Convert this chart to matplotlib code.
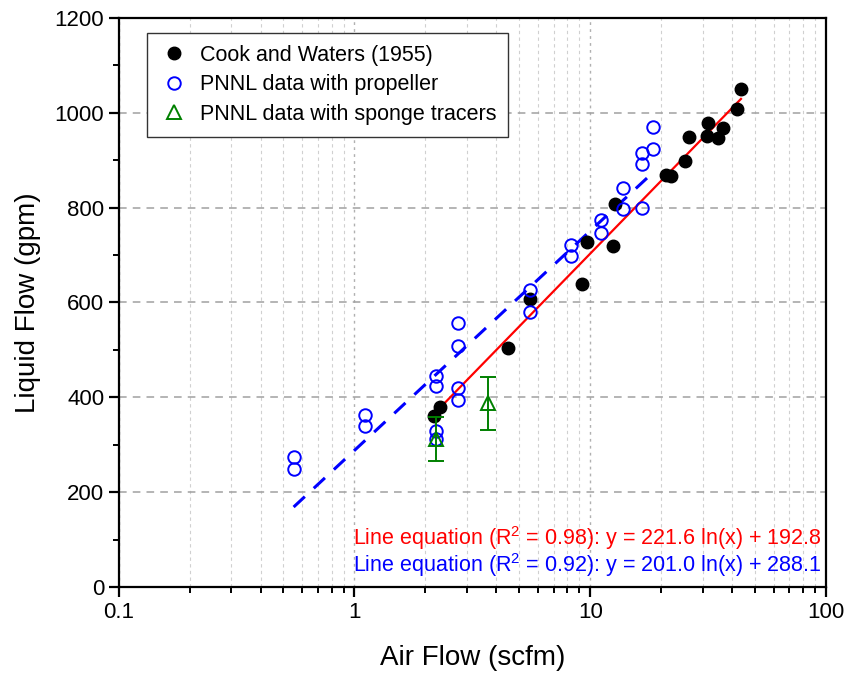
import matplotlib
matplotlib.use('Agg')
import matplotlib.pyplot as plt
from matplotlib.lines import Line2D
import numpy as np
from matplotlib.ticker import LogLocator, FixedLocator, NullFormatter

plt.rcParams['font.family'] = ['Liberation Sans', 'DejaVu Sans']
plt.rcParams['mathtext.fontset'] = 'custom'
plt.rcParams['mathtext.rm'] = 'Liberation Sans'

# Cook and Waters (1955)
cook_x = [2.18, 2.31, 4.5, 5.57, 9.25, 9.7, 12.5, 12.8, 21.0, 22.0, 25.3,
          26.3, 31.6, 31.3, 34.9, 36.6, 42.0, 43.6]
cook_y = [361, 379, 503, 608, 640, 728, 720, 808, 869, 867, 899,
          949, 979, 951, 947, 969, 1008, 1050]

# PNNL data with propeller
prop_x = [0.552, 0.552, 1.11, 1.11, 2.22, 2.22, 2.22, 2.22, 2.76, 2.76,
          2.76, 2.76, 5.57, 5.57, 8.3, 8.3, 11.1, 11.1, 13.8, 13.8,
          16.6, 16.6, 16.6, 18.5, 18.5]
prop_y = [274, 248, 362, 339, 446, 423, 328, 312, 556, 509,
          419, 394, 627, 580, 722, 699, 773, 747, 842, 798,
          800, 893, 916, 924, 971]

# PNNL data with sponge tracers
sponge_x = [2.22, 3.7]
sponge_y = [312, 387]
sponge_err = [47, 55]

# fits: y = a ln(x) + b
red_a, red_b = 221.6, 192.8
blue_a, blue_b = 201.0, 288.1

fig = plt.figure(figsize=(8.48, 6.79), dpi=100)
ax = fig.add_axes([0.140, 0.1355, 0.834, 0.838])

ax.set_xscale('log')
ax.set_xlim(0.1, 100)
ax.set_ylim(0, 1200)

# ticks and grid
ax.xaxis.set_minor_locator(LogLocator(base=10, subs=np.arange(2, 10), numticks=20))
ax.xaxis.set_minor_formatter(NullFormatter())
ax.set_xticks([0.1, 1, 10, 100])
ax.set_xticklabels(['0.1', '1', '10', '100'])
ax.set_yticks(np.arange(0, 1201, 200))
ax.yaxis.set_minor_locator(FixedLocator(np.arange(100, 1200, 200)))
ax.grid(True, which='major', axis='y', color='#a0a0a0', linestyle=(0, (5, 4)), lw=1.1)
ax.grid(True, which='major', axis='x', color='#b0b0b0', linestyle=(0, (2, 3)), lw=1.0)
ax.grid(True, which='minor', axis='x', color='#d0d0d0', linestyle=(0, (3, 3)), lw=0.8)
ax.set_axisbelow(True)

# fit lines
xr = np.linspace(min(cook_x), max(cook_x), 100)
ax.plot(xr, red_a * np.log(xr) + red_b, color='red', lw=1.6, zorder=2)
xb = np.linspace(min(prop_x), max(prop_x), 100)
ax.plot(xb, blue_a * np.log(xb) + blue_b, color='blue', lw=2.2,
        linestyle=(0, (5, 4)), zorder=2)

ax.plot(cook_x, cook_y, 'o', color='black', ms=9, ls='none', zorder=3)
ax.plot(prop_x, prop_y, 'o', mfc='none', mec='blue', mew=1.4, ms=9, ls='none',
        zorder=4)
ax.errorbar(sponge_x, sponge_y, yerr=sponge_err, fmt='^', mfc='none',
            mec='green', mew=1.4, ms=10, ecolor='green', elinewidth=1.4,
            capsize=6, capthick=1.4, zorder=5)

ax.text(0.994, 0.086, 'Line equation (R$^2$ = 0.98): y = 221.6 ln(x) + 192.8',
        transform=ax.transAxes, ha='right', va='center', color='red', fontsize=15.5)
ax.text(0.994, 0.039, 'Line equation (R$^2$ = 0.92): y = 201.0 ln(x) + 288.1',
        transform=ax.transAxes, ha='right', va='center', color='blue', fontsize=15.5)

handles = [
    Line2D([], [], marker='o', color='black', ls='none', ms=9),
    Line2D([], [], marker='o', mfc='none', mec='blue', mew=1.4, ls='none', ms=9),
    Line2D([], [], marker='^', mfc='none', mec='green', mew=1.4, ls='none', ms=10),
]
labels = ['Cook and Waters (1955)', 'PNNL data with propeller',
          'PNNL data with sponge tracers']
leg = ax.legend(handles, labels, loc='upper left', bbox_to_anchor=(0.04, 0.974),
                fontsize=15.5, handletextpad=0.5, handlelength=1.4, borderpad=0.55,
                labelspacing=0.4, borderaxespad=0, fancybox=False,
                framealpha=1, edgecolor='#333333')
leg.get_frame().set_linewidth(1.0)

for s in ax.spines.values():
    s.set_linewidth(1.6)
ax.tick_params(which='major', direction='out', length=7, width=1.6, labelsize=16,
               top=False, right=False)
ax.tick_params(which='minor', direction='out', length=4, width=1.4,
               top=False, right=False)

ax.set_xlabel('Air Flow (scfm)', fontsize=20, labelpad=16)
ax.set_ylabel('Liquid Flow (gpm)', fontsize=20, labelpad=10)

fig.savefig('out.png', dpi=100)
